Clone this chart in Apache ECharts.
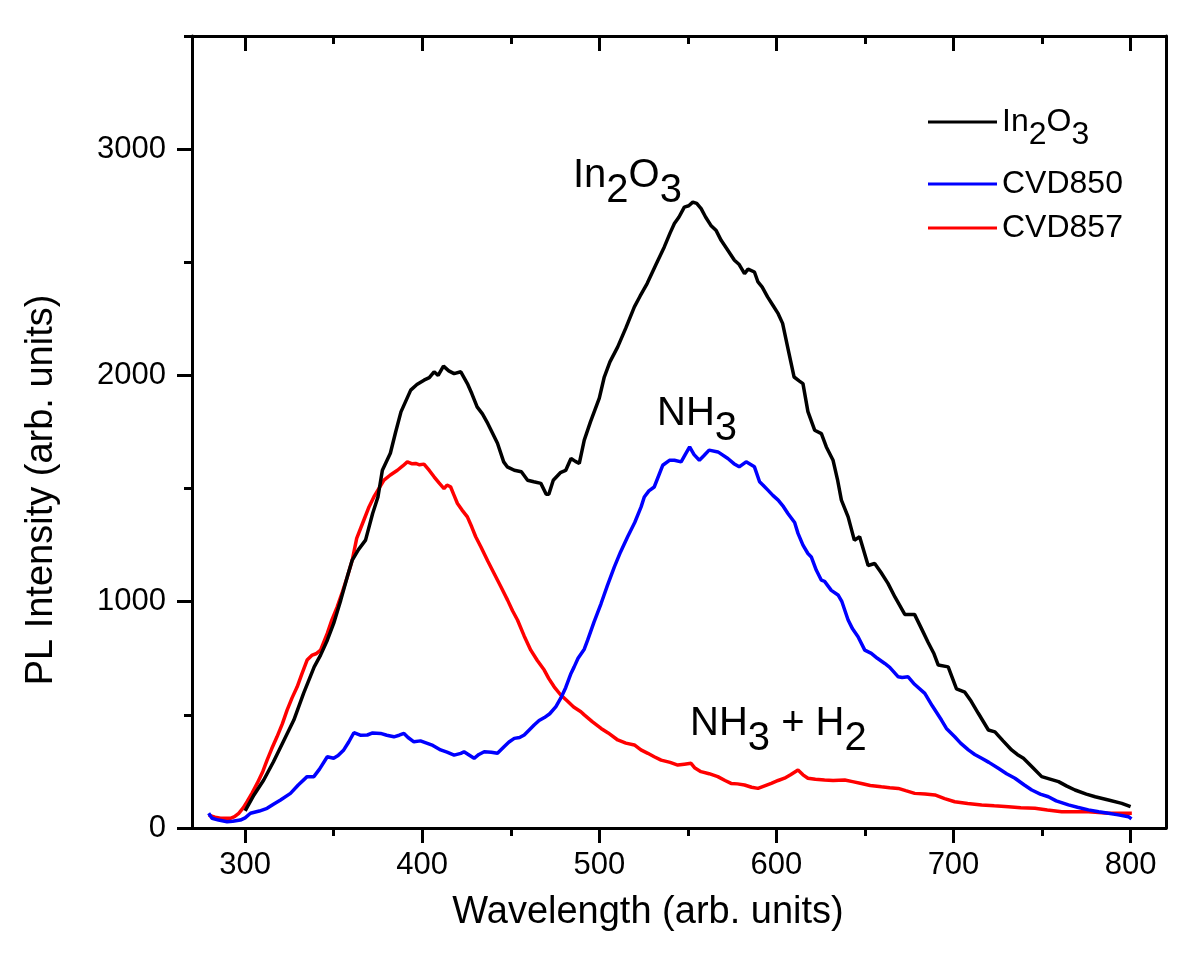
<!DOCTYPE html>
<html><head><meta charset="utf-8">
<script src="https://cdn.jsdelivr.net/npm/echarts@6/dist/echarts.min.js"></script>
<style>html,body{margin:0;padding:0;background:#fff}#c{width:1200px;height:974px}</style>
</head><body><div id="c"></div>
<script>
// ---- data ----
const in2o3Wl = [300,305,310.5,316,322,327.5,333,339,342.6,346.4,350,354,357.7,360.5,364,368,372,375,377.5,382,385,388,393.5,397,401,404,406.7,409,412,415,418,421.8,425.5,428,431,434,437,440,442.5,446,448,452,456,459.5,463,467,470,471.5,474,478,481,484,486.5,488.7,491.5,495,500,502.8,506,510.4,515,519.8,523,527,532,536.7,540,542.4,545,548,550.5,552.8,555,557.5,560,563,566,568.8,572,576.3,579,582,584,587.6,589.6,592,595,598,601,603.5,606.5,610,613,615,617.8,621.6,625.4,628.2,632,634.5,636.7,640.5,644,647,651.8,655.5,659,663,667,672.5,678,682,685.7,689,691.4,697,701.7,706.4,710,714,719.7,723.4,728,732.8,736,739.5,745,749.8,755,759.3,764,768.6,775,780,787.5,795,800];
const in2o3I = [76,146,212,293,389,477,595,712,764,830,904,1007,1110,1184,1230,1272,1390,1463,1581,1656,1750,1839,1935,1960,1979,1990,2016,2000,2041,2020,2008,2016,1964,1920,1861,1830,1788,1740,1700,1618,1596,1581,1574,1537,1530,1523,1475,1475,1537,1570,1580,1633,1620,1611,1714,1795,1900,1993,2060,2126,2210,2303,2350,2406,2490,2568,2630,2671,2700,2744,2750,2766,2760,2737,2700,2663,2640,2597,2560,2509,2490,2450,2470,2457,2413,2390,2347,2310,2273,2230,2120,1993,1975,1964,1840,1758,1743,1684,1625,1540,1449,1375,1272,1287,1160,1169,1130,1081,1020,944,944,880,820,770,720,712,615,600,560,507,433,425,385,345,325,308,265,227,215,205,185,168,150,138,124,109,94];

const cvd850Wl = [279.4,281.3,285,289.8,293,297.3,300,303,308,312.4,316,320,325.6,330,335,338.8,342,346.4,350,352.5,355.7,358.5,361.4,365,369,372,376.5,380,384,387,389.7,392,395.3,399,402.9,406,410.4,414,418,421.8,423.6,426,429.3,432,435,439,442.5,446.2,449,452,455,457.6,460,463.2,466,469,472,475.5,478.3,481,484,485.8,488,491.5,493.4,497,501,504.5,508.5,512,516,520,523.6,525.4,528,531,535.8,539.6,542.4,546.2,548.5,551,553.5,556.5,559,562,567,572.6,576,579,582.9,587.6,590.5,592.5,595.2,598,601,604,606.5,610.3,612.2,615,617.8,619.7,622.5,625.4,627.2,631,634.8,637,640.5,643,646.1,649.9,653.6,657,661.2,664,668.8,671,674.4,678,683.8,688,693.2,696,700.7,704,708.4,712,715.9,720,725.3,730,734.7,740,744.2,749,753.6,758,764.9,770,776.2,782,787.5,793,798.8,800.5];
const cvd850I = [65,43,35,28,30,35,45,65,75,87,105,124,153,190,227,227,260,315,308,320,345,380,421,410,411,420,418,410,403,410,418,400,381,385,374,365,345,335,322,330,337,325,308,325,337,335,330,359,380,396,400,411,430,455,475,488,505,536,575,620,683,712,750,790,830,910,992,1070,1154,1220,1287,1350,1419,1463,1490,1507,1603,1625,1625,1618,1650,1684,1650,1625,1645,1670,1662,1633,1610,1596,1618,1596,1530,1515,1493,1470,1449,1420,1390,1350,1302,1250,1213,1198,1140,1095,1090,1050,1030,1000,919,880,845,786,772,750,727,710,668,665,668,635,595,540,477,440,403,375,345,325,308,290,264,240,220,190,168,150,138,120,102,92,80,72,65,58,50,40];

const cvd857Wl = [279.4,283,286,291.7,294,296.4,299,301.1,304,306.8,310,312.4,315,318,321,323.7,326.5,329.4,332,335,337.9,340,342.6,346.4,349,352,355,357.7,360.5,363,367,370,372.7,375.5,378.4,382,386,389,391.6,394,396.3,398.5,401,404,406.7,409.5,412.3,414,416,418,419.9,422.5,425.5,428,430.2,433.1,437,440.6,444.5,448.2,451,453.8,457.5,461.3,465,468.9,471.5,474.5,478,482.1,485.5,489.6,491.5,496,501,505,510.4,515,519.8,523.5,527.4,531,534.9,540,544.3,548,551.8,554,557.4,562,566.9,571,574.4,578,582,586,589.6,593,597.1,601,604.6,608,612.2,615,617.8,622,627.2,632,638.6,643,648,653,659.3,664,668.8,673,678.1,684,689.5,695,700.7,708,715.9,723,731,738,746,753,761.1,768,776.2,782,787.5,794,800.7];
const cvd857I = [57,48,43,43,50,65,90,116,155,197,250,300,350,403,460,521,575,624,680,742,764,770,786,860,920,977,1045,1110,1184,1280,1360,1420,1463,1500,1537,1560,1581,1600,1618,1610,1611,1605,1608,1580,1552,1525,1500,1515,1508,1470,1434,1405,1375,1330,1287,1243,1180,1125,1065,1007,960,919,850,786,740,698,660,624,590,560,535,514,500,470,440,420,389,375,367,345,330,315,300,290,278,282,286,265,249,240,227,210,197,195,190,180,175,185,197,210,220,235,256,235,220,215,212,210,212,205,197,188,182,178,175,165,153,150,146,130,116,108,102,98,94,90,87,80,72,72,72,68,65,65,65];

const seriesNames = ['In2O3', 'CVD850', 'CVD857'];
const xMajorTicks = [300, 400, 500, 600, 700, 800];
const xMinorTicks = [350, 450, 550, 650, 750];
const yMajorTicks = [0, 1000, 2000, 3000];
const yMinorTicks = [500, 1500, 2500, 3500];

// ---- chart ----
const FONT = 'Liberation Sans, Arial, Helvetica, sans-serif';
const pairs = (xs, ys) => xs.map((x, i) => [x, ys[i]]);
const seriesData = [pairs(in2o3Wl, in2o3I), pairs(cvd850Wl, cvd850I), pairs(cvd857Wl, cvd857I)];
const colors = ['#000000', '#0000ff', '#ff0000'];

const line = { color: '#000', width: 3 };
function xAx(pos, ticks, len, inside, showLine, showLabel) {
  return {
    type: 'value', min: 270, max: 820, position: pos,
    axisLine: { show: showLine, onZero: false, lineStyle: line },
    axisTick: { show: true, customValues: ticks, length: len, inside: inside, lineStyle: line },
    axisLabel: { show: showLabel, customValues: ticks, fontSize: 31, fontFamily: FONT, color: '#000', margin: 22, formatter: v => String(v) },
    splitLine: { show: false }
  };
}
function yAx(pos, ticks, len, inside, showLine, showLabel) {
  return {
    type: 'value', min: 0, max: 3500, position: pos,
    axisLine: { show: showLine, onZero: false, lineStyle: line },
    axisTick: { show: ticks.length > 0, customValues: ticks, length: len, inside: inside, lineStyle: line },
    axisLabel: { show: showLabel, customValues: ticks, fontSize: 31, fontFamily: FONT, color: '#000', margin: 26, formatter: v => String(v) },
    splitLine: { show: false }
  };
}

const legendTops = [101, 163, 207];
const richLegend = {
  m: { fontSize: 32, lineHeight: 58, fontFamily: FONT, color: '#000' },
  s: { fontSize: 32, lineHeight: 32, fontFamily: FONT, color: '#000', verticalAlign: 'bottom' }
};
const richNote = {
  m: { fontSize: 40, lineHeight: 70, fontFamily: FONT, color: '#000' },
  s: { fontSize: 40, lineHeight: 40, fontFamily: FONT, color: '#000', verticalAlign: 'bottom' }
};

const option = {
  animation: false,
  backgroundColor: '#fff',
  grid: { left: 192, right: 34, top: 36, bottom: 146, containLabel: false },
  xAxis: [
    xAx('bottom', xMajorTicks, 15, false, true, true),
    xAx('bottom', xMinorTicks, 8, false, false, false),
    xAx('top', xMajorTicks, 15, true, true, false),
    xAx('top', xMinorTicks, 8, true, false, false)
  ],
  yAxis: [
    yAx('left', yMajorTicks, 15, false, true, true),
    yAx('left', yMinorTicks, 8, false, false, false),
    yAx('right', [], 0, false, true, false)
  ],
  legend: seriesNames.map((n, i) => ({
    data: [n], left: 923, top: legendTops[i], orient: 'vertical',
    icon: 'rect', itemWidth: 69, itemHeight: 3, selectedMode: false,
    formatter: name => name === 'In2O3' ? '{m|In}{s|2}{m|O}{s|3}' : '{m|' + name + '}',
    textStyle: { fontSize: 32, fontFamily: FONT, color: '#000', rich: i === 0 ? richLegend : { m: { fontSize: 32, lineHeight: 32, fontFamily: FONT, color: '#000' } } }
  })),
  series: seriesNames.map((n, i) => ({
    name: n, type: 'line', xAxisIndex: 0, yAxisIndex: 0,
    data: seriesData[i], showSymbol: false, symbol: 'none',
    lineStyle: { color: colors[i], width: 3.5 }, itemStyle: { color: colors[i] },
    z: 3 - i
  })),
  graphic: [
    { type: 'text', x: 648, y: 913, style: { text: 'Wavelength (arb. units)', font: '38px ' + FONT, fill: '#000', align: 'center', verticalAlign: 'middle' } },
    { type: 'text', x: 42, y: 490, rotation: Math.PI / 2, style: { text: 'PL Intensity (arb. units)', font: '38px ' + FONT, fill: '#000', align: 'center', verticalAlign: 'middle' } },
    { type: 'text', x: 573, y: 176, style: { text: '{m|In}{s|2}{m|O}{s|3}', rich: richNote, align: 'left', verticalAlign: 'middle' } },
    { type: 'text', x: 657, y: 414, style: { text: '{m|NH}{s|3}', rich: richNote, align: 'left', verticalAlign: 'middle' } },
    { type: 'text', x: 690, y: 724, style: { text: '{m|NH}{s|3}{m| + H}{s|2}', rich: richNote, align: 'left', verticalAlign: 'middle' } }
  ]
};
const chart = echarts.init(document.getElementById('c'), null, { renderer: 'canvas' });
chart.setOption(option);
</script>
</body></html>
